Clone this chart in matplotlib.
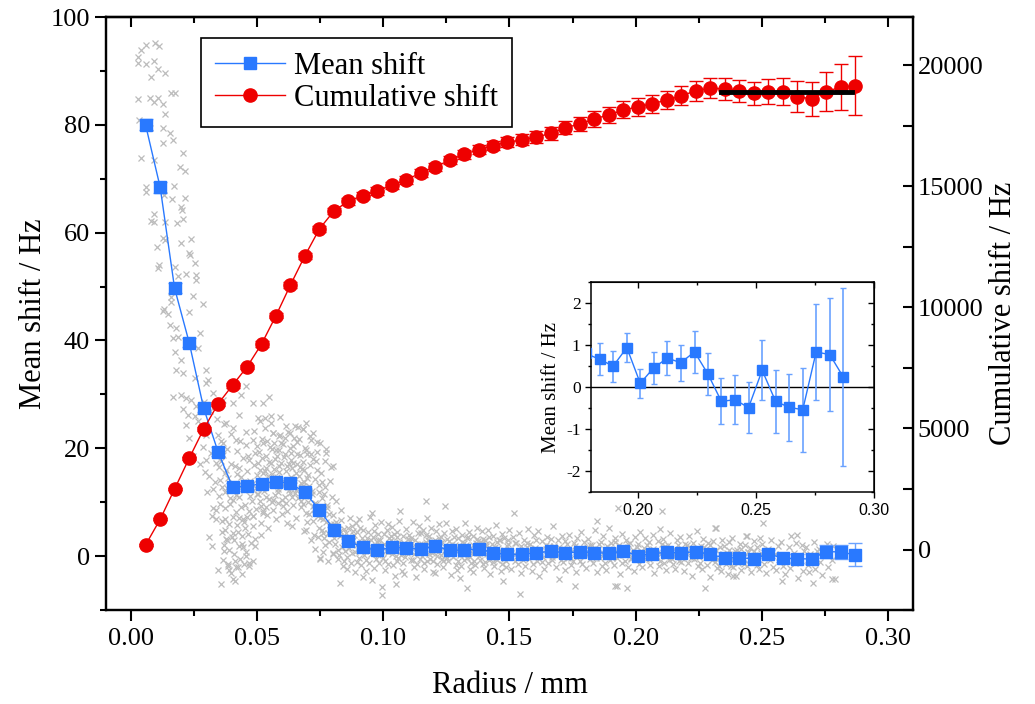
import matplotlib
matplotlib.use('Agg')
import matplotlib.pyplot as plt
from matplotlib.lines import Line2D
from matplotlib.ticker import MultipleLocator, FormatStrFormatter

plt.rcParams['font.family'] = ['Liberation Serif', 'DejaVu Serif']
plt.rcParams['axes.unicode_minus'] = False

# binned data
radius = [0.0057, 0.0115, 0.0172, 0.0230, 0.0287, 0.0344, 0.0402, 0.0459, 0.0517, 0.0574,
          0.0631, 0.0689, 0.0746, 0.0804, 0.0861, 0.0918, 0.0976, 0.1033, 0.1091, 0.1148,
          0.1205, 0.1263, 0.1320, 0.1378, 0.1435, 0.1492, 0.1550, 0.1607, 0.1665, 0.1722,
          0.1779, 0.1837, 0.1894, 0.1952, 0.2009, 0.2066, 0.2124, 0.2181, 0.2239, 0.2296,
          0.2353, 0.2411, 0.2468, 0.2526, 0.2583, 0.2640, 0.2698, 0.2755, 0.2813, 0.2870]
mean_shift = [80.0, 68.4, 49.7, 39.6, 27.5, 19.4, 12.8, 13.0, 13.4, 13.8,
              13.5, 11.8, 8.6, 4.9, 2.8, 1.6, 1.1, 1.6, 1.5, 1.3,
              1.9, 1.1, 1.1, 1.4, 0.6, 0.3, 0.3, 0.6, 0.9, 0.6,
              0.8, 0.66, 0.50, 0.94, 0.09, 0.46, 0.69, 0.58, 0.84, 0.31,
              -0.34, -0.30, -0.49, 0.40, -0.34, -0.48, -0.54, 0.84, 0.77, 0.24]
mean_err = [1.0, 1.0, 0.9, 0.9, 0.8, 0.8, 0.7, 0.6, 0.6, 0.6,
            0.6, 0.5, 0.5, 0.5, 0.4, 0.4, 0.4, 0.35, 0.35, 0.35,
            0.35, 0.35, 0.35, 0.35, 0.35, 0.35, 0.35, 0.35, 0.35, 0.37,
            0.37, 0.38, 0.37, 0.35, 0.35, 0.38, 0.41, 0.43, 0.50, 0.50,
            0.55, 0.59, 0.61, 0.71, 0.75, 0.80, 1.00, 1.14, 1.35, 2.13]
cum_shift = [190, 1250, 2500, 3770, 4970, 6010, 6790, 7540, 8490, 9660,
             10920, 12140, 13240, 13990, 14390, 14620, 14810, 15050, 15270, 15560,
             15810, 16080, 16330, 16520, 16690, 16830, 16920, 17050, 17190, 17430,
             17580, 17790, 17960, 18160, 18290, 18420, 18570, 18740, 18960, 19060,
             19030, 18960, 18850, 18920, 18920, 18710, 18620, 18920, 19100, 19170]
cum_err = [40, 50, 60, 70, 80, 90, 100, 100, 110, 110,
           120, 120, 130, 130, 140, 140, 150, 150, 160, 160,
           170, 170, 180, 185, 190, 200, 227, 262, 275, 275,
           296, 324, 330, 351, 372, 365, 379, 393, 413, 420,
           441, 455, 482, 503, 565, 634, 702, 806, 950, 1212]
plateau_radius = [0.234, 0.286]
plateau_level = [18900, 18900]

# raw single-pixel shifts (radius mm, shift Hz)
raw_points = [
    (0.0040, 93.8), (0.0057, 94.8), (0.0096, 95.2), (0.0112, 94.6), (0.0027, 92.5), (0.0027, 91.4),
    (0.0057, 91.2), (0.0092, 91.9), (0.0106, 90.4), (0.0136, 89.6), (0.0077, 88.9), (0.0027, 84.8),
    (0.0073, 85.0), (0.0092, 84.3), (0.0106, 84.9), (0.0128, 83.8), (0.0159, 85.9), (0.0172, 85.9),
    (0.0136, 82.1), (0.0029, 80.9), (0.0073, 79.5), (0.0128, 79.4), (0.0152, 78.5), (0.0165, 77.2),
    (0.0126, 76.6), (0.0205, 74.8), (0.0040, 73.8), (0.0092, 73.5), (0.0194, 72.1), (0.0215, 71.5),
    (0.0057, 68.5), (0.0057, 67.6), (0.0169, 68.7), (0.0132, 66.9), (0.0163, 66.2), (0.0214, 66.4),
    (0.0198, 64.8), (0.0202, 64.2), (0.0092, 63.4), (0.0077, 62.2), (0.0090, 61.9), (0.0135, 61.9),
    (0.0182, 61.8), (0.0205, 62.5), (0.0128, 59.0), (0.0135, 58.6), (0.0198, 58.0), (0.0238, 58.8),
    (0.0103, 57.4), (0.0231, 56.3), (0.0234, 55.9), (0.0254, 54.3), (0.0110, 54.0), (0.0106, 53.4),
    (0.0174, 53.6), (0.0185, 52.0), (0.0218, 52.3), (0.0258, 52.2), (0.0255, 51.2), (0.0159, 48.1),
    (0.0247, 48.3), (0.0284, 46.8), (0.0132, 45.8), (0.0126, 45.4), (0.0146, 44.9), (0.0231, 45.2),
    (0.0159, 47.2), (0.0152, 42.9), (0.0178, 42.3), (0.0271, 41.4), (0.0165, 40.4), (0.0185, 40.7),
    (0.0264, 38.6), (0.0172, 37.8), (0.0198, 36.4), (0.0178, 34.6), (0.0205, 34.0), (0.0297, 34.6),
    (0.0304, 32.7), (0.0251, 33.0), (0.0165, 29.6), (0.0198, 29.9), (0.0218, 29.3), (0.0238, 29.0),
    (0.0205, 27.2), (0.0225, 26.2), (0.0258, 27.8), (0.0218, 24.4), (0.0231, 21.9), (0.0251, 25.9),
    (0.0264, 25.0), (0.0297, 32.1), (0.0364, 29.0), (0.0403, 28.4), (0.0456, 31.5), (0.0436, 29.9),
    (0.0483, 28.4), (0.0522, 28.4), (0.0548, 29.6), (0.0502, 25.6), (0.0529, 25.6), (0.0555, 25.9),
    (0.0429, 26.2), (0.0377, 24.7), (0.0403, 23.8), (0.0456, 23.1), (0.0483, 21.6), (0.0522, 21.0),
    (0.0416, 21.6), (0.0297, 22.5), (0.0364, 21.0), (0.0297, 17.9), (0.0337, 17.3), (0.0271, 17.0),
    (0.0245, 18.5), (0.0310, 14.8), (0.0370, 15.4), (0.0324, 12.4), (0.0350, 11.1), (0.0337, 8.6),
    (0.0324, 9.0), (0.0337, 6.8), (0.0370, 4.9), (0.0377, 3.1), (0.0403, 4.3), (0.0429, 1.9),
    (0.0456, 0.0), (0.0469, -1.2), (0.0383, -1.9), (0.0416, -2.1), (0.0410, -4.6), (0.0443, 6.8),
    (0.0483, 7.4), (0.0522, 8.0), (0.0562, 10.5), (0.0601, 9.3), (0.0628, 11.7), (0.0681, 13.0),
    (0.0720, 9.3), (0.0760, 4.3), (0.0800, 0.6), (0.0747, -0.6), (0.0694, 4.9), (0.0615, 24.1),
    (0.0648, 24.2), (0.0694, 24.7), (0.0720, 22.9), (0.0747, 21.0), (0.0773, 19.1), (0.0800, 16.7),
    (0.0588, 22.2), (0.0562, 22.9), (0.0681, 23.5),
    (0.0285, 20.3), (0.0291, 15.6), (0.0302, 11.9), (0.0315, 19.2), (0.0319, 7.4), (0.0331, 13.8),
    (0.0343, 22.4), (0.0347, 16.5), (0.0279, 24.1), (0.0288, 28.5), (0.0312, 26.9), (0.0326, 30.3),
    (0.0340, 25.4), (0.0308, 3.6), (0.0322, 1.8), (0.0345, -2.6), (0.0355, -5.2),
    # bump 0.035 - 0.08
    (0.0352, 14.2), (0.0361, 6.5), (0.0358, 21.3), (0.0367, 2.1), (0.0371, 11.8), (0.0356, 17.6),
    (0.0364, -0.8), (0.0373, 8.9), (0.0369, 24.5), (0.0360, 4.4),
    (0.0377, 15.9), (0.0386, 1.2), (0.0391, 9.7), (0.0381, 19.8), (0.0396, -3.1), (0.0388, 6.0),
    (0.0379, 12.6), (0.0394, 22.7), (0.0398, 3.5), (0.0383, -1.5),
    (0.0402, 10.4), (0.0411, 16.8), (0.0407, 0.3), (0.0418, 5.7), (0.0422, 13.1), (0.0405, -4.2),
    (0.0414, 8.2), (0.0420, 19.5), (0.0409, 2.9), (0.0424, -2.0), (0.0416, 11.3),
    (0.0427, 7.1), (0.0436, 14.6), (0.0431, -0.5), (0.0441, 3.8), (0.0445, 18.2), (0.0429, 10.9),
    (0.0439, -3.3), (0.0447, 6.4), (0.0433, 21.4), (0.0443, 1.6), (0.0449, 12.3),
    (0.0452, 9.5), (0.0458, 15.7), (0.0463, 4.1), (0.0468, -1.8), (0.0455, 20.6), (0.0471, 11.2),
    (0.0461, 7.3), (0.0474, 2.4), (0.0466, 17.9), (0.0457, 0.7),
    (0.0478, 13.4), (0.0484, 5.6), (0.0489, 19.1), (0.0493, 8.8), (0.0481, -0.9), (0.0497, 15.0),
    (0.0487, 23.3), (0.0491, 3.2), (0.0499, 11.6), (0.0483, 7.5),
    (0.0503, 17.2), (0.0509, 10.3), (0.0514, 6.1), (0.0518, 21.7), (0.0506, 13.8), (0.0522, 8.4),
    (0.0511, 25.1), (0.0524, 15.5), (0.0516, 3.9), (0.0508, 19.4),
    (0.0528, 12.0), (0.0533, 18.6), (0.0539, 7.7), (0.0544, 14.9), (0.0531, 23.8), (0.0547, 10.6),
    (0.0536, 16.4), (0.0541, 5.2), (0.0549, 20.3), (0.0535, 9.1),
    (0.0553, 13.3), (0.0559, 19.9), (0.0562, 8.6), (0.0568, 16.1), (0.0556, 24.6), (0.0572, 11.4),
    (0.0565, 21.0), (0.0574, 6.8), (0.0560, 15.2), (0.0570, 18.0),
    (0.0578, 14.7), (0.0583, 9.9), (0.0589, 22.4), (0.0594, 17.3), (0.0581, 12.5), (0.0597, 7.9),
    (0.0586, 19.6), (0.0592, 25.8), (0.0599, 13.9), (0.0585, 16.7),
    (0.0603, 20.8), (0.0608, 11.0), (0.0614, 15.8), (0.0619, 8.3), (0.0606, 18.4), (0.0622, 23.1),
    (0.0611, 13.6), (0.0617, 6.2), (0.0624, 17.0), (0.0610, 21.9),
    (0.0627, 12.2), (0.0633, 19.2), (0.0638, 16.3), (0.0643, 9.4), (0.0630, 22.8), (0.0646, 14.1),
    (0.0636, 5.6), (0.0641, 20.5), (0.0649, 11.7), (0.0635, 17.8),
    (0.0652, 15.4), (0.0658, 21.2), (0.0663, 10.8), (0.0668, 18.7), (0.0655, 7.0), (0.0672, 13.5),
    (0.0661, 24.0), (0.0669, 16.6), (0.0674, 9.2), (0.0657, 19.0),
    (0.0677, 12.9), (0.0683, 17.5), (0.0688, 20.1), (0.0693, 8.0), (0.0680, 23.6), (0.0697, 14.4),
    (0.0686, 4.6), (0.0691, 11.1), (0.0699, 18.9), (0.0684, 15.9),
    (0.0702, 10.0), (0.0708, 16.9), (0.0713, 21.5), (0.0719, 6.6), (0.0705, 13.0), (0.0722, 18.1),
    (0.0711, 3.0), (0.0716, 12.1), (0.0724, 8.7), (0.0709, 22.3),
    (0.0727, 14.3), (0.0733, 9.6), (0.0738, 19.3), (0.0743, 5.3), (0.0730, 1.4), (0.0746, 11.9),
    (0.0736, 16.0), (0.0741, 7.4), (0.0749, -0.4), (0.0735, 21.1),
    (0.0752, 8.1), (0.0758, 13.7), (0.0763, 3.4), (0.0768, 17.6), (0.0755, 10.7), (0.0772, 6.3),
    (0.0761, 0.8), (0.0769, 12.8), (0.0774, 19.8), (0.0757, 4.9),
    (0.0777, 9.0), (0.0783, 2.6), (0.0788, 14.0), (0.0793, 5.9), (0.0780, -1.0), (0.0797, 11.0),
    (0.0786, 7.8), (0.0791, 16.5), (0.0799, 0.4), (0.0782, 4.2),
    (0.0354, 9.6), (0.0363, 18.8), (0.0368, 0.9), (0.0359, 12.9), (0.0372, 6.9),
    (0.0378, 3.0), (0.0384, 14.4), (0.0389, -2.6), (0.0393, 10.8), (0.0397, 17.1),
    (0.0403, 7.3), (0.0408, 12.4), (0.0413, -1.0), (0.0419, 15.2), (0.0423, 4.5),
    (0.0428, 16.3), (0.0434, 9.1), (0.0438, 2.2), (0.0442, 13.7), (0.0448, -1.4),
    (0.0453, 5.2), (0.0459, 12.8), (0.0464, 18.6), (0.0469, 8.4), (0.0473, 14.0),
    (0.0479, 10.2), (0.0485, 16.9), (0.0490, 1.9), (0.0494, 12.7), (0.0498, 20.4),
    (0.0504, 11.5), (0.0510, 16.0), (0.0515, 9.3), (0.0519, 18.2), (0.0523, 12.6),
    (0.0529, 15.8), (0.0534, 10.9), (0.0538, 21.3), (0.0543, 13.2), (0.0548, 17.4),
    (0.0554, 17.2), (0.0558, 10.1), (0.0563, 22.8), (0.0567, 13.9), (0.0573, 19.6),
    (0.0579, 18.5), (0.0584, 11.8), (0.0588, 15.6), (0.0593, 20.9), (0.0598, 10.4),
    (0.0604, 13.1), (0.0609, 19.0), (0.0613, 9.8), (0.0618, 16.8), (0.0623, 12.9),
    (0.0628, 20.1), (0.0632, 14.6), (0.0637, 11.0), (0.0642, 17.3), (0.0647, 22.0),
    (0.0653, 12.3), (0.0659, 17.1), (0.0664, 14.8), (0.0667, 21.8), (0.0673, 10.3),
    (0.0678, 16.2), (0.0682, 9.7), (0.0687, 13.8), (0.0692, 19.7), (0.0698, 6.3),
    (0.0703, 15.1), (0.0707, 7.8), (0.0712, 18.9), (0.0718, 11.5), (0.0723, 4.0),
    (0.0728, 9.9), (0.0734, 17.7), (0.0739, 3.6), (0.0744, 13.2), (0.0748, 7.0),
    (0.0753, 15.5), (0.0759, 6.8), (0.0764, 11.6), (0.0770, 2.0), (0.0776, 9.4),
    # 0.08 - 0.15
    (0.0802, 7.6), (0.0808, 2.3), (0.0813, 10.2), (0.0817, 4.8), (0.0821, -0.6), (0.0806, 5.9), (0.0819, 1.2),
    (0.0827, 3.7), (0.0833, 8.5), (0.0838, -1.9), (0.0842, 5.1), (0.0846, 0.9), (0.0831, 6.7), (0.0849, 2.8),
    (0.0852, 4.3), (0.0857, -2.4), (0.0863, 1.5), (0.0868, 7.0), (0.0872, 3.1), (0.0855, -0.2), (0.0874, 5.5),
    (0.0877, 0.6), (0.0883, 3.9), (0.0888, -3.0), (0.0892, 6.2), (0.0897, 2.0), (0.0880, 4.7), (0.0894, -1.1),
    (0.0902, 1.8), (0.0908, 5.3), (0.0913, -1.6), (0.0917, 3.4), (0.0922, 0.2), (0.0905, 6.9), (0.0920, -3.8),
    (0.0927, 2.6), (0.0933, -0.7), (0.0938, 4.5), (0.0942, 1.1), (0.0946, 7.3), (0.0931, -2.7), (0.0949, 3.0),
    (0.0952, 0.4), (0.0957, 3.6), (0.0963, -2.2), (0.0968, 5.8), (0.0972, 1.9), (0.0955, -4.4), (0.0974, 2.7),
    (0.0977, 4.1), (0.0983, -1.3), (0.0988, 1.4), (0.0992, 6.4), (0.0997, -0.3), (0.0980, 2.9), (0.0994, -5.8),
    (0.1002, 2.2), (0.1008, -2.5), (0.1013, 4.9), (0.1017, 0.7), (0.1022, 3.3), (0.1005, -0.9), (0.1020, 6.0),
    (0.1027, 1.0), (0.1033, 5.4), (0.1038, -1.7), (0.1042, 2.5), (0.1046, -3.6), (0.1031, 3.8), (0.1049, 0.1),
    (0.1052, 3.5), (0.1057, -0.4), (0.1063, 6.6), (0.1068, 1.6), (0.1072, -2.8), (0.1055, 4.4), (0.1074, 2.1),
    (0.1077, -1.2), (0.1083, 2.4), (0.1088, 5.0), (0.1092, 0.5), (0.1097, 3.2), (0.1080, -3.4), (0.1094, 1.3),
    (0.1102, 4.0), (0.1108, -0.8), (0.1113, 1.7), (0.1117, 6.3), (0.1122, -2.0), (0.1105, 2.8), (0.1120, 0.3),
    (0.1127, 3.0), (0.1133, -1.5), (0.1138, 0.9), (0.1142, 5.6), (0.1146, 2.2), (0.1131, -3.9), (0.1149, 4.3),
    (0.1152, 1.4), (0.1157, 4.8), (0.1163, -2.3), (0.1168, 2.6), (0.1172, 7.1), (0.1155, 0.0), (0.1174, -0.9),
    (0.1177, 2.9), (0.1183, -0.6), (0.1188, 5.2), (0.1192, 1.0), (0.1197, -2.9), (0.1180, 3.7), (0.1194, 0.6),
    (0.1202, 1.9), (0.1208, 4.6), (0.1213, -1.4), (0.1217, 0.8), (0.1222, 3.4), (0.1205, -3.2), (0.1220, 5.9),
    (0.1227, 0.2), (0.1233, 2.7), (0.1238, -2.1), (0.1242, 4.2), (0.1246, 1.2), (0.1231, -0.5), (0.1249, 6.1),
    (0.1252, 3.1), (0.1257, -1.0), (0.1263, 1.5), (0.1268, -3.5), (0.1272, 4.7), (0.1255, 0.7), (0.1274, 2.3),
    (0.1277, -0.2), (0.1283, 2.0), (0.1288, 5.0), (0.1292, -2.6), (0.1297, 1.1), (0.1280, 3.6), (0.1294, -0.9),
    (0.1302, 1.6), (0.1308, -1.9), (0.1313, 3.9), (0.1317, 0.4), (0.1322, 6.2), (0.1305, -4.1), (0.1320, 2.5),
    (0.1327, 2.1), (0.1333, -0.3), (0.1338, 4.4), (0.1342, -2.4), (0.1346, 0.9), (0.1331, 3.3), (0.1349, -1.2),
    (0.1352, 0.5), (0.1357, 3.8), (0.1363, -1.6), (0.1368, 2.4), (0.1372, 5.3), (0.1355, -3.0), (0.1374, 1.3),
    (0.1377, 2.8), (0.1383, -0.7), (0.1388, 1.7), (0.1392, 4.6), (0.1397, -2.2), (0.1380, 0.1), (0.1394, 3.2),
    (0.1402, -1.1), (0.1408, 2.2), (0.1413, 4.9), (0.1417, 0.6), (0.1422, -3.3), (0.1405, 1.8), (0.1420, 3.5),
    (0.1427, 1.0), (0.1433, 3.7), (0.1438, -1.8), (0.1442, 0.3), (0.1446, 5.7), (0.1431, -0.4), (0.1449, 2.6),
    (0.1452, -0.8), (0.1457, 2.9), (0.1463, 0.5), (0.1468, -2.7), (0.1472, 4.1), (0.1455, 1.5), (0.1474, -4.6),
    (0.1477, 3.4), (0.1483, 0.0), (0.1488, -2.0), (0.1492, 1.9), (0.1497, 4.8), (0.1480, -0.6), (0.1494, 2.3),
    (0.0804, 3.3), (0.0811, 6.4), (0.0823, 0.2), (0.0829, 4.6), (0.0836, 1.7), (0.0844, -0.9),
    (0.0854, 2.2), (0.0861, 5.3), (0.0870, -1.3), (0.0879, 2.9), (0.0886, 0.8), (0.0896, 4.4),
    (0.0904, -0.3), (0.0911, 2.6), (0.0919, 4.9), (0.0929, 0.9), (0.0936, 3.3), (0.0944, -1.2),
    (0.0954, 1.3), (0.0961, 4.7), (0.0970, -0.6), (0.0979, 0.2), (0.0986, 3.0), (0.0995, 1.9),
    (0.1004, 4.1), (0.1011, 1.0), (0.1019, -1.5), (0.1029, 2.9), (0.1036, 0.4), (0.1044, 4.1),
    (0.1054, -1.0), (0.1061, 2.7), (0.1070, 0.2), (0.1079, 3.8), (0.1086, -0.1), (0.1095, 2.0),
    (0.1104, 0.9), (0.1111, 3.4), (0.1119, -0.8), (0.1129, 1.6), (0.1136, 4.2), (0.1144, -0.5),
    (0.1154, 2.3), (0.1161, -1.2), (0.1170, 3.9), (0.1179, 0.4), (0.1186, 2.1), (0.1195, -1.0),
    (0.1204, 3.0), (0.1211, 0.0), (0.1219, 1.9), (0.1229, 3.5), (0.1236, -0.9), (0.1244, 1.7),
    (0.1254, -0.4), (0.1261, 2.8), (0.1270, 0.5), (0.1279, 1.4), (0.1286, -1.7), (0.1295, 3.3),
    (0.1304, 0.2), (0.1311, 2.6), (0.1319, -0.8), (0.1329, 1.2), (0.1336, 3.6), (0.1344, -0.2),
    (0.1354, 2.0), (0.1361, -0.9), (0.1370, 3.1), (0.1379, 0.6), (0.1386, 2.6), (0.1395, -1.4),
    (0.1404, 3.0), (0.1411, 0.4), (0.1419, -0.7), (0.1429, 2.2), (0.1436, -1.1), (0.1444, 1.6),
    (0.1454, 0.3), (0.1461, 3.0), (0.1470, -1.5), (0.1479, 1.1), (0.1486, -0.9), (0.1495, 2.9),
    # 0.15 - 0.28
    (0.1502, 1.2), (0.1508, -2.3), (0.1513, 3.6), (0.1518, 0.3), (0.1522, -0.9),
    (0.1527, 2.5), (0.1533, -1.4), (0.1538, 4.3), (0.1543, 0.8), (0.1547, -3.1),
    (0.1552, 0.1), (0.1558, 3.0), (0.1563, -1.9), (0.1568, 1.7), (0.1572, 5.1),
    (0.1577, -0.5), (0.1583, 2.2), (0.1588, -2.8), (0.1593, 0.9), (0.1597, 3.9),
    (0.1602, 1.5), (0.1608, -1.0), (0.1613, 4.6), (0.1618, -3.6), (0.1622, 0.4),
    (0.1627, 2.8), (0.1633, -0.2), (0.1638, -2.4), (0.1643, 1.3), (0.1647, 3.5),
    (0.1652, -1.3), (0.1658, 0.7), (0.1663, 3.2), (0.1668, -0.7), (0.1672, 5.6),
    (0.1677, 1.9), (0.1683, -2.1), (0.1688, 0.2), (0.1693, 2.9), (0.1697, -4.2),
    (0.1702, 0.6), (0.1708, 3.7), (0.1713, -1.1), (0.1718, 1.4), (0.1722, -2.6),
    (0.1727, 2.3), (0.1733, -0.4), (0.1738, 4.0), (0.1743, -1.7), (0.1747, 0.9),
    (0.1752, -0.9), (0.1758, 1.8), (0.1763, -3.0), (0.1768, 3.3), (0.1772, 0.0),
    (0.1777, 1.1), (0.1783, 4.4), (0.1788, -1.5), (0.1793, 0.5), (0.1797, 2.6),
    (0.1802, -2.2), (0.1808, 1.6), (0.1813, 3.1), (0.1818, -0.6), (0.1822, 0.8),
    (0.1827, 2.0), (0.1833, -1.2), (0.1838, 4.8), (0.1843, 0.3), (0.1847, -2.9),
    (0.1852, 1.3), (0.1858, -0.3), (0.1863, 2.7), (0.1868, -1.8), (0.1872, 3.8),
    (0.1877, 0.4), (0.1883, -2.5), (0.1888, 1.9), (0.1893, 5.3), (0.1897, -0.8),
    (0.1902, 2.4), (0.1908, 0.1), (0.1913, -1.6), (0.1918, 3.4), (0.1922, 1.0),
    (0.1927, -0.4), (0.1933, 2.1), (0.1938, -3.4), (0.1943, 0.7), (0.1947, 4.1),
    (0.1952, 1.7), (0.1958, -1.0), (0.1963, 3.0), (0.1968, -2.0), (0.1972, 0.4),
    (0.1977, 2.5), (0.1983, -0.6), (0.1988, 1.2), (0.1993, -2.7), (0.1997, 3.6),
    (0.2002, 0.0), (0.2008, 2.2), (0.2013, -1.4), (0.2018, 4.5), (0.2022, 0.9),
    (0.2027, -2.1), (0.2033, 1.5), (0.2038, 3.3), (0.2043, -0.5), (0.2047, 0.6),
    (0.2052, 2.6), (0.2058, -1.7), (0.2063, 0.3), (0.2068, 3.9), (0.2072, -3.2),
    (0.2077, 1.0), (0.2083, -0.2), (0.2088, 2.8), (0.2093, -1.9), (0.2097, 5.0),
    (0.2102, 0.5), (0.2108, 3.1), (0.2113, -1.2), (0.2118, 1.8), (0.2122, -2.6),
    (0.2127, 2.0), (0.2133, -0.7), (0.2138, 4.2), (0.2143, 0.2), (0.2147, -1.5),
    (0.2152, 1.4), (0.2158, -2.3), (0.2163, 2.9), (0.2168, 0.6), (0.2172, -0.9),
    (0.2177, 3.5), (0.2183, -0.3), (0.2188, 1.1), (0.2193, -2.8), (0.2197, 2.3),
    (0.2202, 0.8), (0.2208, -1.3), (0.2213, 3.7), (0.2218, 1.5), (0.2222, -3.7),
    (0.2227, 2.4), (0.2233, -0.5), (0.2238, 0.9), (0.2243, 4.6), (0.2247, -1.8),
    (0.2252, -0.2), (0.2258, 1.9), (0.2263, -2.4), (0.2268, 3.2), (0.2272, 0.4),
    (0.2277, 1.2), (0.2283, -1.6), (0.2288, 2.5), (0.2293, -0.1), (0.2297, -3.9),
    (0.2302, 0.3), (0.2308, 2.8), (0.2313, -1.1), (0.2318, 5.2), (0.2322, -2.2),
    (0.2327, -0.6), (0.2333, 1.6), (0.2338, -2.7), (0.2343, 3.0), (0.2347, 0.0),
    (0.2352, 1.8), (0.2358, -1.4), (0.2363, 0.5), (0.2368, -3.3), (0.2372, 2.6),
    (0.2377, -0.8), (0.2383, 3.4), (0.2388, -2.0), (0.2393, 0.9), (0.2397, -3.7),
    (0.2402, 1.1), (0.2408, -1.2), (0.2413, 2.3), (0.2418, -2.6), (0.2422, 0.2),
    (0.2427, -0.4), (0.2433, 2.0), (0.2438, 3.7), (0.2443, -1.9), (0.2447, 0.7),
    (0.2452, 1.5), (0.2458, -2.9), (0.2463, 0.1), (0.2468, 2.8), (0.2472, -1.0),
    (0.2477, -0.3), (0.2483, 1.7), (0.2488, -2.3), (0.2493, 3.3), (0.2497, 0.6),
    (0.2502, 2.2), (0.2508, -1.5), (0.2513, 0.8), (0.2518, -3.1),
    (0.2527, 1.3), (0.2533, -0.7), (0.2538, 3.0), (0.2543, -2.1),
    (0.2552, 0.4), (0.2558, -2.5), (0.2563, 1.9), (0.2568, -0.2),
    (0.2577, 2.7), (0.2583, -1.8), (0.2588, 0.2), (0.2593, -3.4),
    (0.2602, -0.9), (0.2608, 1.6), (0.2613, -2.2), (0.2618, 3.8),
    (0.2627, 0.5), (0.2633, -1.3), (0.2638, 2.4), (0.2643, -4.0),
    (0.2652, -0.1), (0.2658, 2.1), (0.2663, -2.7), (0.2668, 1.0),
    (0.2677, 1.7), (0.2683, -1.6), (0.2688, -3.0), (0.2693, 0.3),
    (0.2702, -0.5), (0.2708, 2.6), (0.2713, -2.4), (0.2718, 0.9),
    (0.2727, 1.4), (0.2733, -1.1), (0.2738, -3.5),
    (0.2752, 0.6), (0.2758, 2.3), (0.2763, -2.0),
    (0.2777, -0.8), (0.2783, 1.8), (0.2792, -4.3),
    (0.1505, 0.6), (0.1520, 2.5), (0.1530, 0.0), (0.1545, 1.9), (0.1555, -0.8), (0.1570, 2.4),
    (0.1580, 0.9), (0.1595, -1.5), (0.1605, 2.9), (0.1620, 0.9), (0.1630, -1.1), (0.1645, 2.0),
    (0.1655, 1.9), (0.1670, -0.2), (0.1680, 0.8), (0.1695, 1.6), (0.1705, -0.7), (0.1720, 2.8),
    (0.1730, 1.2), (0.1745, -0.3), (0.1755, 2.4), (0.1770, 0.7), (0.1780, -1.0), (0.1795, 1.5),
    (0.1805, 0.3), (0.1820, 2.1), (0.1830, 0.9), (0.1845, -0.4), (0.1855, 2.2), (0.1870, 0.6),
    (0.1880, -1.3), (0.1895, 1.3), (0.1905, -0.3), (0.1920, 2.6), (0.1930, 0.2), (0.1945, -1.2),
    (0.1955, 1.0), (0.1970, 2.3), (0.1980, -0.3), (0.1995, 0.5), (0.2005, 1.6), (0.2020, -0.6),
    (0.2030, 0.4), (0.2045, 2.1), (0.2055, -0.5), (0.2070, 1.3), (0.2080, 0.1), (0.2095, -0.9),
    (0.2105, 2.3), (0.2120, 0.0), (0.2130, 1.0), (0.2145, -0.6), (0.2155, 0.2), (0.2170, 2.0),
    (0.2180, -1.1), (0.2195, 0.9), (0.2205, 2.1), (0.2220, -0.4), (0.2230, 1.3), (0.2245, 0.3),
    (0.2255, -1.2), (0.2270, 1.6), (0.2280, 0.5), (0.2295, 2.0), (0.2305, -0.8), (0.2320, 1.1),
    (0.2330, -1.8), (0.2345, 0.4), (0.2355, -0.4), (0.2370, 1.2), (0.2380, -1.9), (0.2395, 0.3),
    (0.2405, -0.6), (0.2420, 1.4), (0.2430, -1.4), (0.2445, 0.8), (0.2455, -0.8), (0.2470, 1.0),
    (0.2480, -1.6), (0.2495, 0.2),
    # outliers
    (0.1170, 10.2), (0.1245, 9.3), (0.0994, -7.3), (0.0829, -4.9), (0.1542, -7.1), (0.1516, 8.0),
    (0.1330, -5.9), (0.1760, -5.6), (0.1846, 6.5), (0.1930, 9.0), (0.1926, -5.6), (0.1050, -5.2),
    (0.1067, 8.3), (0.0954, 8.0), (0.2507, 6.2), (0.2640, 4.0), (0.2031, 9.3), (0.2104, 8.3),
    (0.2316, 5.3), (0.2441, 3.7), (0.1919, -5.6), (0.1965, -5.9), (0.2276, -5.9), (0.2580, -4.6),
    (0.2705, -4.9), (0.2778, -4.3), (0.2388, -3.7),
]
raw_r = [p[0] for p in raw_points]
raw_hz = [p[1] for p in raw_points]

blue = '#2979ff'
blue_err = '#6aa2ff'
red = '#ee0000'
grey = '#bcbcbc'

fig = plt.figure(figsize=(10.35, 7.04), dpi=100)
ax = fig.add_axes([0.1024, 0.1335, 0.7797, 0.8423])
ax2 = ax.twinx()

ax.plot(raw_r, raw_hz, 'x', color=grey, ms=4.5, mew=0.9, zorder=1)
ax.errorbar(radius, mean_shift, yerr=mean_err, color=blue, marker='s', ms=8, lw=1,
            ecolor=blue_err, elinewidth=1, capsize=5, capthick=1, zorder=3)
ax2.errorbar(radius, cum_shift, yerr=cum_err, color=red, marker='o', ms=9.5, lw=1,
             ecolor=red, elinewidth=1, capsize=5, capthick=1, zorder=3)
ax2.plot(plateau_radius, plateau_level, color='black', lw=3.5, zorder=4)

ax.set_xlim(-0.01, 0.31)
ax.set_ylim(-10, 100)
ax2.set_ylim(-2500, 22000)

ax.xaxis.set_major_locator(MultipleLocator(0.05))
ax.xaxis.set_minor_locator(MultipleLocator(0.025))
ax.xaxis.set_major_formatter(FormatStrFormatter('%.2f'))
ax.yaxis.set_major_locator(MultipleLocator(20))
ax.yaxis.set_minor_locator(MultipleLocator(10))
ax2.yaxis.set_major_locator(MultipleLocator(5000))
ax2.yaxis.set_minor_locator(MultipleLocator(2500))

ax.tick_params(axis='both', which='major', direction='out', length=8, width=1.5, labelsize=19)
ax.tick_params(axis='both', which='minor', direction='out', length=4.5, width=1.5)
ax.tick_params(axis='x', which='major', pad=5)
ax2.tick_params(axis='y', which='both', direction='in', length=7, width=1.5, labelsize=19)

top = ax.secondary_xaxis('top')
top.xaxis.set_major_locator(MultipleLocator(0.05))
top.xaxis.set_minor_locator(MultipleLocator(0.025))
top.tick_params(which='major', direction='in', length=7, width=1.5, labeltop=False)
top.tick_params(which='minor', direction='in', length=4, width=1.5)
top.spines['top'].set_linewidth(1.6)

for a in (ax, ax2):
    for s in a.spines.values():
        s.set_linewidth(1.6)

ax.set_xlabel('Radius / mm', fontsize=22, labelpad=15)
ax.set_ylabel('Mean shift / Hz', fontsize=22, labelpad=2)
ax2.set_ylabel('Cumulative shift / Hz', fontsize=22, labelpad=4)

handles = [Line2D([], [], color=blue, marker='s', ms=8, lw=1),
           Line2D([], [], color=red, marker='o', ms=9.5, lw=1)]
leg = ax2.legend(handles, ['Mean shift', 'Cumulative shift'], loc='upper left',
                 bbox_to_anchor=(0.1177, 0.9646), borderaxespad=0, fontsize=22,
                 frameon=True, fancybox=False, edgecolor='black', framealpha=1,
                 handlelength=2.3, handletextpad=0.3, borderpad=0.45, labelspacing=0.1)
leg.get_frame().set_linewidth(1.2)

# inset
axin = fig.add_axes([0.571, 0.301, 0.2734, 0.2983])
axin.set_facecolor('white')
axin.axhline(0, color='black', lw=1, zorder=1)
axin.errorbar(radius, mean_shift, yerr=mean_err, color=blue, marker='s', ms=6.5, lw=1,
              ecolor=blue_err, elinewidth=1.2, capsize=2, capthick=1, zorder=3)
axin.set_xlim(0.18, 0.30)
axin.set_ylim(-2.5, 2.5)
axin.xaxis.set_major_locator(MultipleLocator(0.05))
axin.xaxis.set_minor_locator(MultipleLocator(0.025))
axin.xaxis.set_major_formatter(FormatStrFormatter('%.2f'))
axin.yaxis.set_major_locator(MultipleLocator(1))
axin.yaxis.set_minor_locator(MultipleLocator(0.5))
axin.tick_params(which='major', direction='out', length=4, width=1, labelsize=12.5)
axin.tick_params(which='minor', direction='out', length=2.5, width=1)
axin.tick_params(axis='x', labelfontfamily='Liberation Sans', labelsize=11.5)
axin.set_ylabel('Mean shift / Hz', fontsize=15, labelpad=4)
for s in axin.spines.values():
    s.set_linewidth(1.1)

itop = axin.secondary_xaxis('top')
itop.xaxis.set_major_locator(MultipleLocator(0.05))
itop.xaxis.set_minor_locator(MultipleLocator(0.025))
itop.tick_params(which='major', direction='in', length=4, width=1, labeltop=False)
itop.tick_params(which='minor', direction='in', length=2.5, width=1)
iright = axin.secondary_yaxis('right')
iright.yaxis.set_major_locator(MultipleLocator(1))
iright.yaxis.set_minor_locator(MultipleLocator(0.5))
iright.tick_params(which='major', direction='in', length=4, width=1, labelright=False)
iright.tick_params(which='minor', direction='in', length=2.5, width=1)

fig.savefig('out.png', dpi=100)
